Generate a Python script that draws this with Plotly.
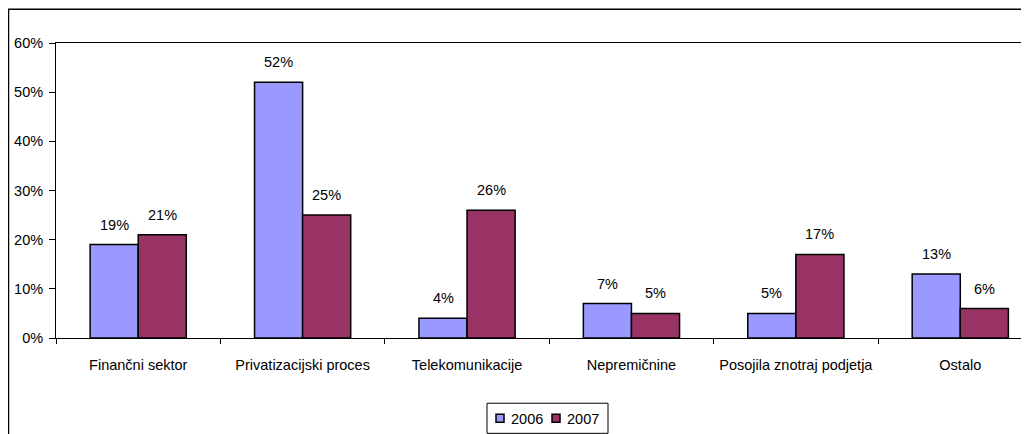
import plotly.graph_objects as go

categories = ["Finančni sektor", "Privatizacijski proces", "Telekomunikacije",
              "Nepremičnine", "Posojila znotraj podjetja", "Ostalo"]
series_names = ["2006", "2007"]
values_2006 = [19, 52, 4, 7, 5, 13]
values_2007 = [21, 25, 26, 5, 17, 6]
y_ticks = [0, 10, 20, 30, 40, 50, 60]
y_tick_labels = ["0%", "10%", "20%", "30%", "40%", "50%", "60%"]

FONT = "Arial, Liberation Sans, sans-serif"
FS = 14.5
colors = ["#9999FF", "#993366"]

# page-pixel layout of the plot area (used to place the framed legend)
PL, PR, PT, PB = 56, 1029, 43, 337


def px(X):
    return (X - PL) / (PR - PL)


def py(Y):
    return (PB - Y) / (PB - PT)


fig = go.Figure()
for name, vals, col in zip(series_names, [values_2006, values_2007], colors):
    fig.add_trace(go.Bar(
        x=categories, y=vals, name=name,
        marker=dict(color=col, line=dict(color="black", width=1.5)),
    ))

annotations = []
for i, vals in enumerate([values_2006, values_2007]):
    shift = -24 if i == 0 else 24
    for c, v in zip(categories, vals):
        annotations.append(dict(
            x=c, y=v, text=f"{v}%", showarrow=False, xref="x", yref="y",
            xshift=shift, yshift=10, yanchor="bottom",
            font=dict(family=FONT, size=FS, color="black"),
        ))

shapes = [dict(type="rect", xref="paper", yref="paper",
               x0=px(8.5), x1=1.3, y0=-0.6, y1=py(9.3),
               line=dict(color="black", width=1.5), fillcolor="rgba(0,0,0,0)", layer="above"),
          dict(type="rect", xref="paper", yref="paper",
               x0=px(487), x1=px(608), y0=py(432), y1=py(402),
               line=dict(color="black", width=1), fillcolor="white", layer="above")]

# legend entries: small framed squares + labels
legend_icon_x = [496, 552]
legend_text_x = [509, 565]
for name, col, ix, tx in zip(series_names, colors, legend_icon_x, legend_text_x):
    shapes.append(dict(type="rect", xref="paper", yref="paper",
                       x0=px(ix), x1=px(ix + 8), y0=py(421), y1=py(413),
                       line=dict(color="black", width=1.5), fillcolor=col, layer="above"))
    annotations.append(dict(x=px(tx), y=py(417.5), xref="paper", yref="paper",
                            text=name, showarrow=False, xanchor="left", yanchor="middle",
                            font=dict(family=FONT, size=FS, color="black")))

fig.update_layout(
    width=1021, height=426,
    margin=dict(l=48, r=0, t=35, b=95.5, pad=0),
    paper_bgcolor="white", plot_bgcolor="white",
    barmode="group", bargap=0.415, bargroupgap=0,
    font=dict(family=FONT, size=FS, color="black"),
    showlegend=False,
    annotations=annotations,
    shapes=shapes,
)
fig.update_xaxes(
    type="category", range=[-0.5, 5.418],
    showline=True, linecolor="black", linewidth=1, mirror=True,
    ticks="outside", ticklen=5, tickcolor="black", tickson="boundaries",
    ticklabelstandoff=14, showgrid=False, zeroline=False,
)
fig.update_yaxes(
    range=[0, 60], tickvals=y_ticks, ticktext=y_tick_labels,
    showline=True, linecolor="black", linewidth=1,
    ticks="outside", ticklen=6, tickcolor="black",
    showgrid=False, zeroline=False, ticklabelstandoff=3,
)
fig.write_html("out.html")
